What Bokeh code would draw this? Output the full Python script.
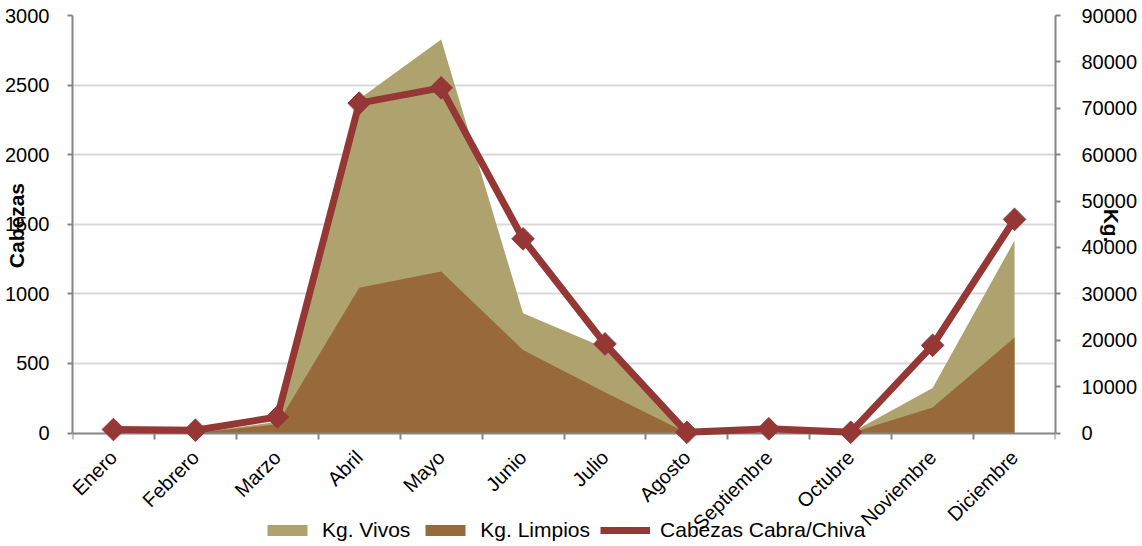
import math
from bokeh.plotting import figure
from bokeh.models import (Range1d, LinearAxis, FixedTicker, Legend, LegendItem,
                          ColumnDataSource)
from bokeh.embed import file_html
from bokeh.resources import INLINE

# ---- data ----
months = ["Enero", "Febrero", "Marzo", "Abril", "Mayo", "Junio", "Julio",
          "Agosto", "Septiembre", "Octubre", "Noviembre", "Diciembre"]
cabezas = [25, 20, 115, 2370, 2480, 1395, 640, 5, 30, 5, 630, 1535]
kg_vivos = [0, 0, 2400, 72000, 84800, 25800, 18300, 0, 0, 0, 9700, 41500]
kg_limpios = [0, 0, 1900, 31300, 34800, 17900, 8800, 0, 0, 0, 5500, 20600]
left_ticks = [0, 500, 1000, 1500, 2000, 2500, 3000]
right_ticks = [0, 10000, 20000, 30000, 40000, 50000, 60000, 70000, 80000, 90000]
left_title = "Cabezas"
right_title = "Kg."
series_names = ["Kg. Vivos", "Kg. Limpios", "Cabezas Cabra/Chiva"]

idx = list(range(len(months)))
bounds = [i - 0.5 for i in range(len(months) + 1)]

src = ColumnDataSource(dict(x=idx, cab=cabezas, viv=kg_vivos, lim=kg_limpios,
                            zero=[0] * len(months)))

FONT = "Liberation Sans"
AXIS_COLOR = "#868686"
GRID_COLOR = "#D9D9D9"
C_VIVOS = "#AEA36F"
C_LIMPIOS = "#98693A"
C_LINE = "#953735"
NBSP = "\u00a0"

# layout in pixels
W, H = 1142, 546
TOP = 15          # frame top
ZERO_PX = 432.5   # screen y of value 0
LEFT_MAX = left_ticks[-1]
RIGHT_MAX = right_ticks[-1]
px_per_unit = (ZERO_PX - TOP) / LEFT_MAX
y_low = -(H - ZERO_PX) / px_per_unit          # frame extends below zero (room for legend)
y_low_right = y_low * RIGHT_MAX / LEFT_MAX

p = figure(width=W, height=H, output_backend="svg", toolbar_location=None,
           x_range=Range1d(-0.5, len(months) - 0.5),
           y_range=Range1d(y_low, LEFT_MAX),
           min_border_left=72, min_border_right=87, min_border_top=TOP,
           min_border_bottom=0)
p.extra_y_ranges = {"kg": Range1d(y_low_right, RIGHT_MAX)}
p.outline_line_color = None
p.background_fill_color = "white"
p.border_fill_color = "white"

r_viv = p.varea(x="x", y1="zero", y2="viv", source=src, fill_color=C_VIVOS,
                y_range_name="kg")
r_lim = p.varea(x="x", y1="zero", y2="lim", source=src, fill_color=C_LIMPIOS,
                y_range_name="kg")

r_line = p.line(x="x", y="cab", source=src, line_color=C_LINE, line_width=7)
r_mark = p.scatter(x="x", y="cab", source=src, marker="square", angle=math.pi / 4,
                   size=16, fill_color=C_LINE, line_color=C_LINE)
r_line.level = "overlay"
r_mark.level = "overlay"

# x axis at value 0
xa = p.xaxis[0]
xa.fixed_location = 0
xa.ticker = FixedTicker(ticks=idx, minor_ticks=bounds)
xa.major_label_overrides = {float(i): m for i, m in zip(idx, months)}
xa.major_label_orientation = math.pi / 4
xa.major_tick_out = 0
xa.major_tick_in = 0
xa.minor_tick_out = 6
xa.minor_tick_in = 0
xa.minor_tick_line_color = AXIS_COLOR
xa.minor_tick_line_width = 2
xa.axis_line_color = AXIS_COLOR
xa.axis_line_width = 2
xa.major_label_text_font = FONT
xa.major_label_text_font_size = "20px"
xa.major_label_text_color = "black"
xa.major_label_standoff = 15

# left axis; title padded so that it is centred on the 0..3000 part of the frame
pad = NBSP * 19
ya = p.yaxis[0]
ya.bounds = (0, LEFT_MAX)
ya.ticker = FixedTicker(ticks=left_ticks)
ya.minor_tick_out = 0
ya.minor_tick_in = 0
ya.major_tick_out = 5
ya.major_tick_in = 0
ya.major_tick_line_color = AXIS_COLOR
ya.major_tick_line_width = 2
ya.axis_line_color = AXIS_COLOR
ya.axis_line_width = 2
ya.major_label_text_font = FONT
ya.major_label_text_font_size = "20px"
ya.major_label_text_color = "black"
ya.major_label_standoff = 18
ya.axis_label = pad + left_title
ya.axis_label_text_font = FONT
ya.axis_label_text_font_size = "21px"
ya.axis_label_text_font_style = "bold"
ya.axis_label_text_color = "black"
ya.axis_label_standoff = -26

ra = LinearAxis(y_range_name="kg", ticker=FixedTicker(ticks=right_ticks),
                bounds=(0, RIGHT_MAX))
ra.minor_tick_out = 0
ra.minor_tick_in = 0
ra.major_tick_out = 5
ra.major_tick_in = 0
ra.major_tick_line_color = AXIS_COLOR
ra.major_tick_line_width = 2
ra.axis_line_color = AXIS_COLOR
ra.axis_line_width = 2
ra.major_label_text_font = FONT
ra.major_label_text_font_size = "20px"
ra.major_label_text_color = "black"
ra.major_label_standoff = 21
ra.axis_label = right_title + pad
ra.axis_label_text_font = FONT
ra.axis_label_text_font_size = "21px"
ra.axis_label_text_font_style = "bold"
ra.axis_label_text_color = "black"
ra.axis_label_standoff = -40
p.add_layout(ra, "right")

p.xgrid.visible = False
p.ygrid[0].ticker = FixedTicker(ticks=left_ticks[1:])
p.ygrid[0].grid_line_color = GRID_COLOR
p.ygrid[0].grid_line_width = 2

legend = Legend(items=[LegendItem(label=series_names[0], renderers=[r_viv]),
                       LegendItem(label=series_names[1], renderers=[r_lim]),
                       LegendItem(label=series_names[2], renderers=[r_line, r_mark])],
                location=(190, 4), orientation="horizontal",
                glyph_width=50, glyph_height=14, label_standoff=10, spacing=10,
                padding=0, margin=0, label_text_font=FONT,
                label_text_font_size="21px", label_text_color="black",
                label_height=20, background_fill_alpha=0, border_line_color=None)
p.add_layout(legend)

open("out.html", "w").write(file_html(p, INLINE))
